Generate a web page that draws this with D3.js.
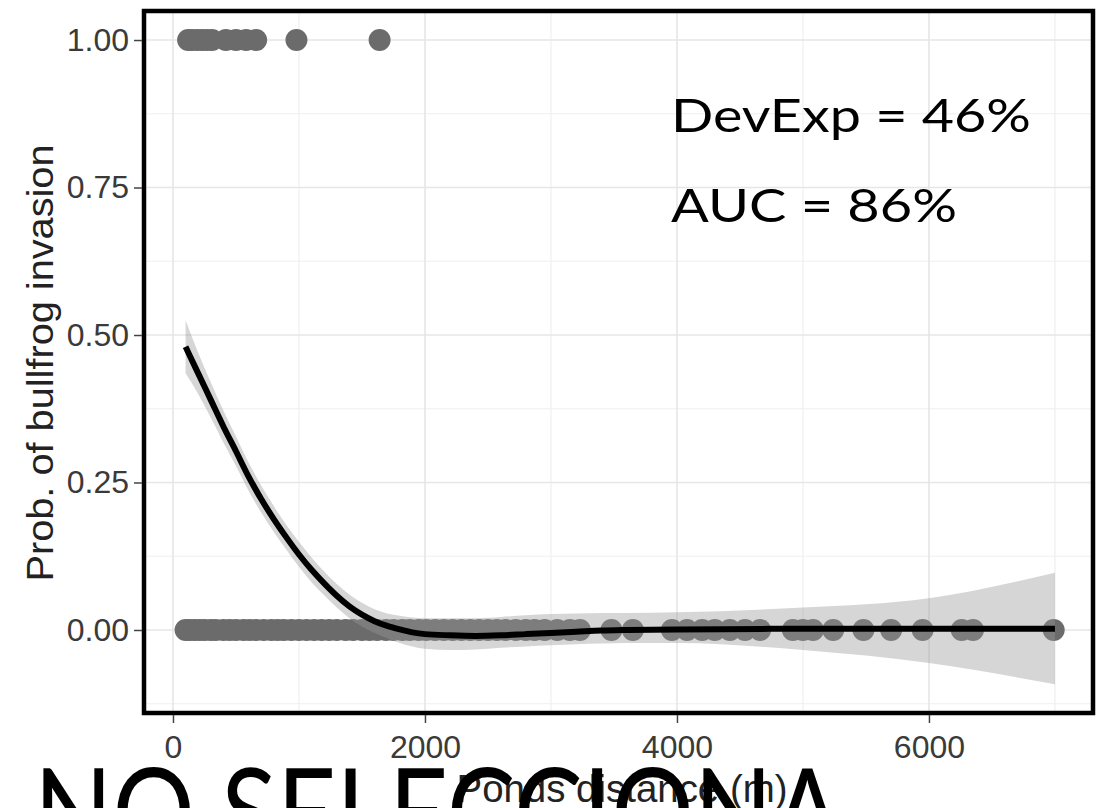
<!DOCTYPE html>
<html>
<head>
<meta charset="utf-8">
<script src="https://cdnjs.cloudflare.com/ajax/libs/d3/7.8.5/d3.min.js"></script>
<style>
  body { margin: 0; background: #fff; }
  svg { display: block; }
</style>
</head>
<body>
<svg width="1096" height="808"></svg>
<script>
// observed ponds: distance (m) with no invasion (0) and with invasion (1)
const distAbsent = [100, 130, 170, 210, 250, 300, 340, 400, 450, 500, 560, 610, 660, 720, 780, 830, 880, 940,
  1000, 1060, 1120, 1180, 1240, 1300, 1370, 1430, 1500, 1560, 1620, 1690, 1750, 1820, 1880, 1950,
  2010, 2080, 2150, 2220, 2290, 2360, 2430, 2500, 2570, 2640, 2720, 2800, 2870, 2950, 3050, 3150, 3230,
  3480, 3650, 3960, 4080, 4200, 4300, 4420, 4540, 4660, 4920, 5000, 5080, 5240, 5480, 5700, 5950,
  6260, 6350, 6990];
const distPresent = [120, 150, 190, 230, 270, 310, 420, 500, 580, 660, 980, 1640];

// fitted curve with its confidence band
const fitX = [100, 200, 300, 400, 500, 600, 700, 800, 900, 1000, 1100, 1200, 1300, 1400, 1500, 1600, 1700,
  1800, 1900, 2000, 2200, 2400, 2600, 2800, 3000, 3200, 3400, 3600, 4000, 5000, 6000, 7000];
const fitY = [0.48, 0.435, 0.39, 0.345, 0.303, 0.26, 0.222, 0.188, 0.157, 0.128, 0.102, 0.079, 0.058, 0.04,
  0.026, 0.015, 0.007, 0.001, -0.004, -0.007, -0.009, -0.01, -0.009, -0.007, -0.005, -0.003, -0.001, 0,
  0.001, 0.002, 0.002, 0.002];
const fitHi = [0.525, 0.47, 0.42, 0.372, 0.328, 0.284, 0.245, 0.21, 0.178, 0.149, 0.123, 0.099, 0.078, 0.06,
  0.046, 0.035, 0.028, 0.024, 0.021, 0.02, 0.02, 0.02, 0.022, 0.025, 0.027, 0.028, 0.029, 0.029, 0.03,
  0.038, 0.054, 0.097];
const fitLo = [0.435, 0.4, 0.36, 0.318, 0.278, 0.236, 0.199, 0.166, 0.136, 0.107, 0.081, 0.059, 0.038, 0.02,
  0.006, -0.005, -0.014, -0.022, -0.028, -0.032, -0.034, -0.033, -0.03, -0.028, -0.026, -0.024, -0.023,
  -0.022, -0.022, -0.034, -0.056, -0.092];

const xTicks = [0, 2000, 4000, 6000];
const xMinor = [1000, 3000, 5000, 7000];
const yTicks = [0, 0.25, 0.5, 0.75, 1];
const yMinor = [-0.125, 0.125, 0.375, 0.625, 0.875];
const notes = ["DevExp = 46%", "AUC = 86%"];

const svg = d3.select("svg");
const panel = { left: 144, right: 1093, top: 11, bottom: 713 };

const x = d3.scaleLinear().domain([-230, 7302]).range([panel.left, panel.right]);
const y = d3.scaleLinear().domain([-0.1407, 1.0492]).range([panel.bottom, panel.top]);

svg.append("rect").attr("width", 1096).attr("height", 808).attr("fill", "#fff");

// grid
const grid = svg.append("g");
grid.selectAll(".vmin").data(xMinor).enter().append("line")
  .attr("x1", d => x(d)).attr("x2", d => x(d)).attr("y1", panel.top).attr("y2", panel.bottom)
  .attr("stroke", "#efefef").attr("stroke-width", 1.2);
grid.selectAll(".hmin").data(yMinor).enter().append("line")
  .attr("y1", d => y(d)).attr("y2", d => y(d)).attr("x1", panel.left).attr("x2", panel.right)
  .attr("stroke", "#efefef").attr("stroke-width", 1.2);
grid.selectAll(".vmaj").data(xTicks).enter().append("line")
  .attr("x1", d => x(d)).attr("x2", d => x(d)).attr("y1", panel.top).attr("y2", panel.bottom)
  .attr("stroke", "#e6e6e6").attr("stroke-width", 1.6);
grid.selectAll(".hmaj").data(yTicks).enter().append("line")
  .attr("y1", d => y(d)).attr("y2", d => y(d)).attr("x1", panel.left).attr("x2", panel.right)
  .attr("stroke", "#e6e6e6").attr("stroke-width", 1.6);

// points
const pts = distAbsent.map(d => ({ d: d, v: 0 })).concat(distPresent.map(d => ({ d: d, v: 1 })));
svg.append("g").selectAll("circle").data(pts).enter().append("circle")
  .attr("cx", p => x(p.d)).attr("cy", p => y(p.v)).attr("r", 11)
  .attr("fill", "#6b6b6b");

// confidence band + fit
const band = fitX.map((d, i) => ({ d: d, hi: fitHi[i], lo: fitLo[i], f: fitY[i] }));
svg.append("path").datum(band)
  .attr("d", d3.area().x(p => x(p.d)).y0(p => y(p.lo)).y1(p => y(p.hi)).curve(d3.curveMonotoneX))
  .attr("fill", "#999").attr("fill-opacity", 0.4);
svg.append("path").datum(band)
  .attr("d", d3.line().x(p => x(p.d)).y(p => y(p.f)).curve(d3.curveMonotoneX))
  .attr("fill", "none").attr("stroke", "#000").attr("stroke-width", 6);

// panel border
svg.append("rect")
  .attr("x", panel.left).attr("y", panel.top)
  .attr("width", panel.right - panel.left).attr("height", panel.bottom - panel.top)
  .attr("fill", "none").attr("stroke", "#000").attr("stroke-width", 4.5);

// axes
const xAxis = svg.append("g")
  .attr("transform", "translate(0," + (panel.bottom + 2) + ")")
  .call(d3.axisBottom(x).tickValues(xTicks).tickFormat(d3.format("d")).tickSize(8).tickPadding(12));
const yAxis = svg.append("g")
  .attr("transform", "translate(" + (panel.left - 2) + ",0)")
  .call(d3.axisLeft(y).tickValues(yTicks).tickFormat(d3.format(".2f")).tickSize(8).tickPadding(5));
[xAxis, yAxis].forEach(a => {
  a.select(".domain").remove();
  a.selectAll(".tick line").attr("stroke", "#444").attr("stroke-width", 1.5);
  a.selectAll(".tick text").attr("fill", "#3a3a3a")
    .style("font-family", "'Liberation Sans', Arial, sans-serif").style("font-size", "32px");
});

// axis titles
svg.append("text")
  .attr("transform", "translate(53,363) rotate(-90)")
  .attr("text-anchor", "middle")
  .attr("textLength", 437).attr("lengthAdjust", "spacingAndGlyphs")
  .style("font-family", "'Liberation Sans', Arial, sans-serif").style("font-size", "36px")
  .attr("fill", "#222")
  .text("Prob. of bullfrog invasion");
svg.append("text")
  .attr("x", 622).attr("y", 802)
  .attr("text-anchor", "middle")
  .attr("textLength", 331).attr("lengthAdjust", "spacingAndGlyphs")
  .style("font-family", "'Liberation Sans', Arial, sans-serif").style("font-size", "38px")
  .attr("fill", "#222")
  .text("Ponds distance (m)");

// annotations
const gothic = "'Century Gothic', 'URW Gothic', Lato, 'Open Sans', sans-serif";
svg.selectAll(".note").data(notes).enter().append("text")
  .attr("x", 671).attr("y", (d, i) => i === 0 ? 132 : 222)
  .attr("textLength", (d, i) => i === 0 ? 360 : 286).attr("lengthAdjust", "spacingAndGlyphs")
  .style("font-family", gothic).style("font-size", "47px")
  .attr("fill", "#000")
  .text(d => d);

svg.append("text")
  .attr("x", 34).attr("y", 856)
  .attr("textLength", 808).attr("lengthAdjust", "spacingAndGlyphs")
  .style("font-family", gothic).style("font-size", "122px")
  .attr("fill", "#000")
  .text("NO SELECCIONA");
</script>
</body>
</html>
